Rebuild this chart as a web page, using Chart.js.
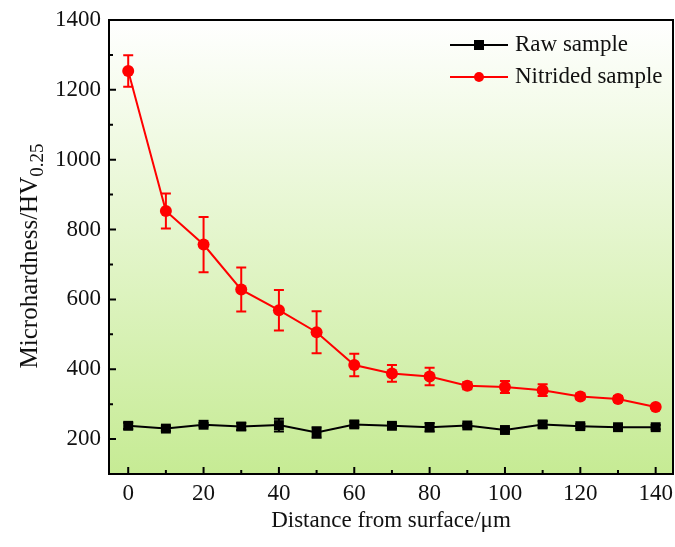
<!DOCTYPE html>
<html>
<head>
<meta charset="utf-8">
<script src="https://cdn.jsdelivr.net/npm/chart.js@4"></script>
<style>
  body { margin: 0; background: #fff; }
  canvas { display: block; }
</style>
</head>
<body>
<canvas id="out" width="675" height="547"></canvas>
<script>
// data
const distance = [0, 10, 20, 30, 40, 50, 60, 70, 80, 90, 100, 110, 120, 130, 140];
const rawHardness = [238, 230, 241, 236, 240, 219, 242, 238, 234, 239, 226, 242, 237, 234, 234];
const rawError = [9, 7, 5, 10, 18, 15, 8, 7, 12, 5, 5, 9, 6, 6, 6];
const nitridedHardness = [1254, 853, 757, 628, 569, 506, 412, 388, 379, 353, 349, 340, 322, 315, 292];
const nitridedError = [45, 50, 79, 63, 58, 60, 32, 24, 25, 10, 17, 17, 8, 8, 6];
const xTicks = [0, 20, 40, 60, 80, 100, 120, 140];
const xMinor = [10, 30, 50, 70, 90, 110, 130];
const yTicks = [200, 400, 600, 800, 1000, 1200, 1400];
const yMinor = [300, 500, 700, 900, 1100, 1300];

const FONT = "'Liberation Serif', 'Times New Roman', serif";

const toPoints = (xs, ys) => xs.map((x, i) => ({ x: x, y: ys[i] }));

// gradient background of the plot area
const bgPlugin = {
  id: "bg",
  beforeDraw(chart) {
    const { ctx, chartArea: a } = chart;
    const g = ctx.createLinearGradient(0, a.top, 0, a.bottom);
    g.addColorStop(0, "#ffffff");
    g.addColorStop(1, "#c6eb94");
    ctx.save();
    ctx.fillStyle = g;
    ctx.fillRect(a.left, a.top, a.right - a.left, a.bottom - a.top);
    ctx.restore();
  }
};

// error bars, drawn under the markers
const errPlugin = {
  id: "errbars",
  beforeDatasetsDraw(chart) {
    const ctx = chart.ctx;
    const xs = chart.scales.x, ys = chart.scales.y;
    chart.data.datasets.forEach(ds => {
      ctx.save();
      ctx.strokeStyle = ds.borderColor;
      ctx.lineWidth = 2;
      ds.data.forEach((p, i) => {
        const e = ds.errors[i];
        const px = xs.getPixelForValue(p.x);
        const top = ys.getPixelForValue(p.y + e);
        const bot = ys.getPixelForValue(p.y - e);
        ctx.beginPath();
        ctx.moveTo(px, top); ctx.lineTo(px, bot);
        ctx.moveTo(px - 5, top); ctx.lineTo(px + 5, top);
        ctx.moveTo(px - 5, bot); ctx.lineTo(px + 5, bot);
        ctx.stroke();
      });
      ctx.restore();
    });
  }
};

// frame, inward ticks, titles and legend
const framePlugin = {
  id: "frame",
  afterDraw(chart) {
    const { ctx, chartArea: a } = chart;
    const xs = chart.scales.x, ys = chart.scales.y;
    ctx.save();
    ctx.strokeStyle = "#000";
    ctx.lineWidth = 2;
    ctx.strokeRect(a.left, a.top, a.right - a.left, a.bottom - a.top);

    ctx.beginPath();
    xTicks.forEach(v => { const p = xs.getPixelForValue(v); ctx.moveTo(p, a.bottom); ctx.lineTo(p, a.bottom - 7); });
    xMinor.forEach(v => { const p = xs.getPixelForValue(v); ctx.moveTo(p, a.bottom); ctx.lineTo(p, a.bottom - 4); });
    yTicks.forEach(v => { const p = ys.getPixelForValue(v); ctx.moveTo(a.left, p); ctx.lineTo(a.left + 7, p); });
    yMinor.forEach(v => { const p = ys.getPixelForValue(v); ctx.moveTo(a.left, p); ctx.lineTo(a.left + 4, p); });
    ctx.stroke();

    // x title
    ctx.fillStyle = "#111";
    ctx.font = "23px " + FONT;
    ctx.textAlign = "center";
    ctx.textBaseline = "middle";
    ctx.fillText("Distance from surface/\u03bcm", (a.left + a.right) / 2, 521);

    // y title with subscript
    ctx.textBaseline = "alphabetic";
    ctx.translate(37, 256);
    ctx.rotate(-Math.PI / 2);
    const main = "Microhardness/HV", sub = "0.25";
    ctx.font = "25px " + FONT;
    const w1 = ctx.measureText(main).width;
    ctx.font = "19px " + FONT;
    const w2 = ctx.measureText(sub).width;
    const start = -(w1 + w2) / 2;
    ctx.textAlign = "left";
    ctx.font = "25px " + FONT;
    ctx.fillText(main, start, 0);
    ctx.font = "19px " + FONT;
    ctx.fillText(sub, start + w1, 6);
    ctx.restore();

    // legend
    ctx.save();
    ctx.font = "23px " + FONT;
    ctx.textBaseline = "middle";
    ctx.fillStyle = "#111";
    const rows = [45, 77];
    chart.data.datasets.forEach((ds, i) => {
      const y = rows[i];
      ctx.strokeStyle = ds.borderColor;
      ctx.lineWidth = 2;
      ctx.beginPath();
      ctx.moveTo(450, y); ctx.lineTo(508, y);
      ctx.stroke();
      ctx.fillStyle = ds.backgroundColor;
      ctx.beginPath();
      if (ds.pointStyle === "rect") {
        ctx.rect(474, y - 5, 10, 10);
      } else {
        ctx.arc(479, y, 5, 0, Math.PI * 2);
      }
      ctx.fill();
      ctx.fillStyle = "#111";
      ctx.fillText(ds.label, 515, y);
    });
    ctx.restore();
  }
};

new Chart(document.getElementById("out").getContext("2d"), {
  type: "line",
  data: {
    datasets: [
      {
        label: "Raw sample",
        data: toPoints(distance, rawHardness),
        errors: rawError,
        borderColor: "#000000",
        backgroundColor: "#000000",
        borderWidth: 2,
        pointStyle: "rect",
        pointRadius: 7,
        pointBorderWidth: 0,
        tension: 0
      },
      {
        label: "Nitrided sample",
        data: toPoints(distance, nitridedHardness),
        errors: nitridedError,
        borderColor: "#ff0000",
        backgroundColor: "#ff0000",
        borderWidth: 2,
        pointStyle: "circle",
        pointRadius: 6,
        pointBorderWidth: 0,
        tension: 0
      }
    ]
  },
  options: {
    responsive: false,
    animation: false,
    devicePixelRatio: 1,
    layout: { autoPadding: false, padding: { top: 20, right: 2, left: 0, bottom: 0 } },
    plugins: { legend: { display: false }, tooltip: { enabled: false } },
    scales: {
      x: {
        type: "linear",
        min: -5.1,
        max: 144.6,
        afterBuildTicks: s => { s.ticks = xTicks.map(v => ({ value: v })); },
        afterFit: s => { s.height = 73; s.paddingLeft = 0; s.paddingRight = 0; },
        grid: { display: false, drawTicks: false },
        border: { display: false },
        ticks: { color: "#111", padding: 6, font: { family: FONT, size: 23 }, callback: v => String(v) }
      },
      y: {
        min: 100,
        max: 1400,
        afterBuildTicks: s => { s.ticks = yTicks.map(v => ({ value: v })); },
        afterFit: s => { s.width = 109; s.paddingTop = 0; s.paddingBottom = 0; },
        grid: { display: false, drawTicks: false },
        border: { display: false },
        ticks: { color: "#111", padding: 8, font: { family: FONT, size: 23 }, callback: v => String(v) }
      }
    }
  },
  plugins: [bgPlugin, errPlugin, framePlugin]
});
</script>
</body>
</html>
